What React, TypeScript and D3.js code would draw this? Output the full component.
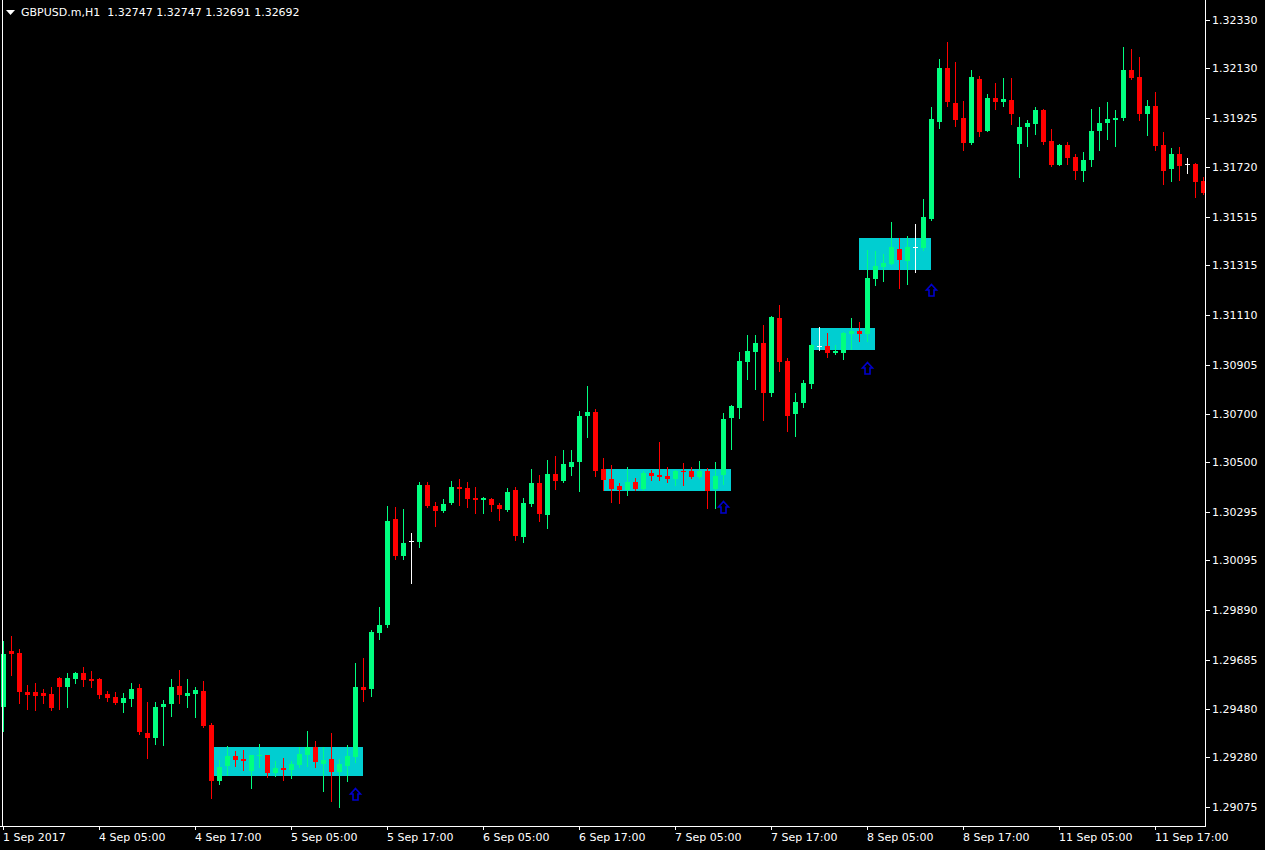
import React from "react";
import * as d3 from "d3";

const TITLE = "GBPUSD.m,H1  1.32747 1.32747 1.32691 1.32692";

const OPEN = [
  1.29489, 1.2972, 1.29712, 1.29551, 1.29551, 1.29547, 1.29543, 1.29609, 1.29572, 1.29605,
  1.2963, 1.29605, 1.29605, 1.29543, 1.2953, 1.29505, 1.29522, 1.29567, 1.29381, 1.29361,
  1.29489, 1.29501, 1.29576, 1.29534, 1.29543, 1.29555, 1.29414, 1.29183, 1.29245, 1.29286,
  1.29274, 1.29224, 1.29286, 1.2929, 1.29216, 1.29237, 1.29228, 1.29249, 1.2929, 1.29323,
  1.29253, 1.29274, 1.2922, 1.29245, 1.29282, 1.29572, 1.29563, 1.29795, 1.29828, 1.30266,
  1.30113, 1.30175, 1.30171, 1.30407, 1.3032, 1.30299, 1.30333, 1.30399, 1.30395, 1.30353,
  1.30345, 1.30349, 1.30324, 1.30304, 1.30386, 1.30192, 1.30328, 1.30415, 1.30283, 1.30452,
  1.30424, 1.30481, 1.30502, 1.30692, 1.30709, 1.30473, 1.30432, 1.30403, 1.30386, 1.30419,
  1.3039, 1.30457, 1.30448, 1.30444, 1.30432, 1.30465, 1.30465, 1.3044, 1.30465, 1.3039,
  1.30448, 1.30684, 1.30725, 1.30916, 1.30957, 1.30994, 1.30788, 1.31098, 1.3092, 1.30701,
  1.30746, 1.30825, 1.30982, 1.30982, 1.30953, 1.30953, 1.31032, 1.31044, 1.31032, 1.31259,
  1.31309, 1.31321, 1.31383, 1.31333, 1.31391, 1.31387, 1.31507, 1.31908, 1.32132, 1.31987,
  1.31925, 1.31822, 1.32086, 1.31871, 1.32008, 1.31991, 1.31999, 1.31817, 1.31888, 1.319,
  1.31958, 1.3183, 1.31731, 1.31813, 1.31764, 1.31706, 1.31751, 1.31871, 1.31904, 1.31917,
  1.31925, 1.32123, 1.32094, 1.31942, 1.31975, 1.31813, 1.31714, 1.31776, 1.31735, 1.31735,
  1.31664,
];
const HIGH = [
  1.29762, 1.29782, 1.29729, 1.2958, 1.29588, 1.29563, 1.29572, 1.29613, 1.2963, 1.29634,
  1.29654, 1.29638, 1.29608, 1.29555, 1.29551, 1.29547, 1.29588, 1.29584, 1.29509, 1.29509,
  1.29518, 1.29605, 1.29642, 1.29605, 1.29572, 1.29596, 1.29423, 1.2927, 1.29327, 1.29307,
  1.29311, 1.29292, 1.29336, 1.29292, 1.29265, 1.29278, 1.29265, 1.29323, 1.2939, 1.29348,
  1.29323, 1.29381, 1.29274, 1.29332, 1.29671, 1.29691, 1.29807, 1.29902, 1.3032, 1.30316,
  1.30308, 1.30208, 1.30419, 1.30419, 1.30337, 1.30349, 1.30424, 1.30432, 1.30419, 1.30399,
  1.30357, 1.30353, 1.30333, 1.30395, 1.30399, 1.30353, 1.30473, 1.30448, 1.3051, 1.30527,
  1.30552, 1.30552, 1.30713, 1.30816, 1.30721, 1.30519, 1.3049, 1.30415, 1.30481, 1.30436,
  1.30465, 1.30469, 1.30585, 1.30481, 1.30469, 1.30498, 1.30481, 1.30506, 1.30477, 1.30502,
  1.30705, 1.30738, 1.30957, 1.31027, 1.31027, 1.31069, 1.31106, 1.31151, 1.30932, 1.30788,
  1.30841, 1.30988, 1.3106, 1.31036, 1.30986, 1.31038, 1.31098, 1.31081, 1.31379, 1.31375,
  1.31362, 1.31495, 1.31429, 1.31437, 1.31486, 1.3159, 1.3197, 1.32169, 1.32239, 1.32157,
  1.31995, 1.32123, 1.32099, 1.32024, 1.3207, 1.3209, 1.3209, 1.31929, 1.31917, 1.3197,
  1.3196, 1.31879, 1.31817, 1.31826, 1.31776, 1.31784, 1.31962, 1.3197, 1.31991, 1.31958,
  1.32219, 1.3221, 1.32177, 1.31999, 1.32032, 1.31867, 1.31801, 1.31805, 1.31759, 1.31739,
  1.31681,
];
const LOW = [
  1.2939, 1.29621, 1.29505, 1.29481, 1.29476, 1.29505, 1.29476, 1.29481, 1.29489, 1.29588,
  1.29576, 1.29572, 1.29526, 1.29514, 1.29503, 1.29468, 1.29493, 1.29377, 1.29278, 1.29336,
  1.29332, 1.29452, 1.29505, 1.29489, 1.29448, 1.29406, 1.29112, 1.2917, 1.29208, 1.29245,
  1.29228, 1.29154, 1.29241, 1.29199, 1.29203, 1.29187, 1.29195, 1.29241, 1.29245, 1.29241,
  1.29141, 1.291, 1.29075, 1.29183, 1.29261, 1.29514, 1.29534, 1.2977, 1.2982, 1.30101,
  1.30101, 1.30002, 1.30151, 1.30316, 1.30237, 1.30297, 1.3033, 1.30324, 1.30316, 1.30291,
  1.30291, 1.30299, 1.30262, 1.30299, 1.3018, 1.30171, 1.3032, 1.30258, 1.30229, 1.3039,
  1.30419, 1.30448, 1.30382, 1.30606, 1.30444, 1.30386, 1.30337, 1.30333, 1.30366, 1.30386,
  1.30386, 1.30428, 1.30428, 1.30419, 1.30407, 1.30407, 1.30436, 1.30436, 1.30312, 1.30312,
  1.30411, 1.30556, 1.30684, 1.30845, 1.30804, 1.30676, 1.30775, 1.30878, 1.3063, 1.3061,
  1.3073, 1.30808, 1.30965, 1.30936, 1.30949, 1.30928, 1.3097, 1.31003, 1.31003, 1.31234,
  1.31251, 1.31319, 1.31222, 1.31238, 1.31288, 1.31379, 1.31503, 1.31884, 1.31975, 1.31892,
  1.31793, 1.31817, 1.3185, 1.31869, 1.31962, 1.31975, 1.319, 1.31681, 1.31809, 1.31859,
  1.31817, 1.31726, 1.31729, 1.31735, 1.31673, 1.31664, 1.31726, 1.31793, 1.31838, 1.31809,
  1.31917, 1.32086, 1.31917, 1.31855, 1.31793, 1.31652, 1.31664, 1.31668, 1.31697, 1.31598,
  1.31611,
];
const CLOSE = [
  1.29708, 1.29708, 1.29551, 1.29538, 1.29534, 1.29534, 1.29485, 1.29572, 1.29609, 1.2963,
  1.29601, 1.29596, 1.29538, 1.29526, 1.29505, 1.29526, 1.29563, 1.29385, 1.29361, 1.29489,
  1.29501, 1.29572, 1.29538, 1.29547, 1.29559, 1.2941, 1.29183, 1.29241, 1.29286, 1.2927,
  1.29265, 1.2929, 1.2929, 1.29216, 1.29237, 1.29228, 1.29253, 1.29294, 1.29323, 1.29261,
  1.2927, 1.2922, 1.29253, 1.29286, 1.29572, 1.29559, 1.29799, 1.29828, 1.30258, 1.30113,
  1.30167, 1.30175, 1.30407, 1.3032, 1.30299, 1.30328, 1.30399, 1.3039, 1.30349, 1.30345,
  1.30353, 1.30324, 1.30308, 1.30378, 1.30196, 1.30333, 1.30415, 1.30287, 1.30452, 1.30424,
  1.30494, 1.30502, 1.30692, 1.30709, 1.30465, 1.30428, 1.3039, 1.30386, 1.30419, 1.3039,
  1.30457, 1.30444, 1.3044, 1.30432, 1.30465, 1.30461, 1.3044, 1.30465, 1.30382, 1.30444,
  1.3068, 1.30734, 1.3092, 1.30961, 1.30994, 1.30788, 1.31102, 1.30916, 1.30692, 1.3075,
  1.30829, 1.30986, 1.30982, 1.30953, 1.30961, 1.31036, 1.31044, 1.31032, 1.31263, 1.31313,
  1.31325, 1.31391, 1.31338, 1.31391, 1.31391, 1.31515, 1.31921, 1.32132, 1.31991, 1.31917,
  1.31822, 1.32094, 1.31867, 1.32008, 1.31991, 1.32004, 1.31942, 1.31888, 1.31904, 1.31958,
  1.31826, 1.31731, 1.31813, 1.31759, 1.31706, 1.31751, 1.31871, 1.31904, 1.31921, 1.31925,
  1.32123, 1.3209, 1.31942, 1.31975, 1.31809, 1.31706, 1.31776, 1.31726, 1.31735, 1.3166,
  1.31615,
];

const PRICE_TICKS = [
  1.3233, 1.3213, 1.31925, 1.3172, 1.31515, 1.31315, 1.3111, 1.30905, 1.307, 1.305,
  1.30295, 1.30095, 1.2989, 1.29685, 1.2948, 1.2928, 1.29075,
];
const TIME_TICK_BARS = [0, 12, 24, 36, 48, 60, 72, 84, 96, 108, 120, 132, 144];
const TIME_TICK_LABELS = [
  "1 Sep 2017", "4 Sep 05:00", "4 Sep 17:00", "5 Sep 05:00", "5 Sep 17:00",
  "6 Sep 05:00", "6 Sep 17:00", "7 Sep 05:00", "7 Sep 17:00", "8 Sep 05:00",
  "8 Sep 17:00", "11 Sep 05:00", "11 Sep 17:00",
];

const BOX_START = [26.4, 75, 101, 107];
const BOX_END = [45, 91, 109, 116];
const BOX_TOP = [1.29323, 1.30473, 1.31056, 1.31429];
const BOX_BOTTOM = [1.29203, 1.30382, 1.30965, 1.31296];

const ARROW_BAR = [44, 90, 108, 116];
const ARROW_PRICE = [1.29154, 1.30341, 1.30916, 1.31238];

const W = 1265;
const H = 850;
const BULL = "#00FF80";
const BEAR = "#FF0000";
const DOJI = "#FFFFFF";
const BOX = "#00CED1";
const ARROW = "#0000CD";
const FONT = "'DejaVu Sans', Verdana, sans-serif";

export default function App() {
  const n = OPEN.length;
  const x = d3.scaleLinear().domain([0, n - 1]).range([3, 3 + 8 * (n - 1)]);
  const y = d3.scaleLinear().domain([1.29075, 1.3233]).range([807, 20]);
  const axisX = 1205;
  const axisY = 826;

  const candles = d3.range(n).map((i) => {
    const o = OPEN[i], c = CLOSE[i], h = HIGH[i], l = LOW[i];
    const color = c > o ? BULL : c < o ? BEAR : DOJI;
    const cx = Math.round(x(i));
    const wt = Math.round(y(h));
    const wb = Math.round(y(l));
    const bt = Math.round(y(Math.max(o, c)));
    const bb = Math.round(y(Math.min(o, c)));
    return (
      <g key={i} fill={color}>
        <rect x={cx} y={wt} width={1} height={Math.max(1, wb - wt + 1)} />
        <rect x={cx - 2} y={bt} width={5} height={Math.max(1, bb - bt)} />
      </g>
    );
  });

  const boxes = BOX_START.map((s, k) => {
    const x0 = Math.round(x(s));
    const x1 = Math.round(x(BOX_END[k]));
    const y0 = Math.round(y(BOX_TOP[k]));
    const y1 = Math.round(y(BOX_BOTTOM[k]));
    return <rect key={k} x={x0} y={y0} width={x1 - x0} height={y1 - y0} fill={BOX} />;
  });

  const arrows = ARROW_BAR.map((b, k) => {
    const ax = Math.round(x(b)) + 0.5;
    const ay = Math.round(y(ARROW_PRICE[k])) + 0.5;
    const d = `M0,0 L5,5.5 L2.5,5.5 L2.5,11.5 L-2.5,11.5 L-2.5,5.5 L-5,5.5 Z`;
    return (
      <path key={k} d={d} transform={`translate(${ax},${ay})`} fill="none" stroke={ARROW} strokeWidth={1.6} strokeLinejoin="miter" />
    );
  });

  return (
    <svg
      width={W}
      height={H}
      style={{ position: "fixed", left: 0, top: 0, display: "block" }}
      shapeRendering="crispEdges"
    >
      <rect x={0} y={0} width={W} height={H} fill="#000" />
      {boxes}
      {candles}
      <g shapeRendering="geometricPrecision">{arrows}</g>
      {/* frame */}
      <rect x={2} y={0} width={1} height={axisY} fill="#fff" />
      <rect x={0} y={axisY} width={axisX + 1} height={1} fill="#fff" />
      <rect x={axisX} y={0} width={1} height={axisY + 1} fill="#fff" />
      {/* price axis */}
      {PRICE_TICKS.map((p, k) => {
        const ty = Math.round(y(p));
        return (
          <g key={k}>
            <rect x={axisX + 1} y={ty} width={4} height={1} fill="#fff" />
            <text x={1212} y={ty + 4} fill="#fff" fontFamily={FONT} fontSize={11} shapeRendering="auto">
              {p.toFixed(5)}
            </text>
          </g>
        );
      })}
      {/* time axis */}
      {TIME_TICK_BARS.map((b, k) => {
        const tx = Math.round(x(b));
        return (
          <g key={k}>
            <rect x={tx} y={axisY + 1} width={1} height={3} fill="#fff" />
            <text x={tx} y={841} fill="#fff" fontFamily={FONT} fontSize={11}>
              {TIME_TICK_LABELS[k]}
            </text>
          </g>
        );
      })}
      {/* header */}
      <path d="M6,10 L15,10 L10.5,15 Z" fill="#fff" shapeRendering="geometricPrecision" />
      <text x={21} y={16} fill="#fff" fontFamily={FONT} fontSize={11} xmlSpace="preserve" style={{ whiteSpace: "pre" }}>
        {TITLE}
      </text>
    </svg>
  );
}
